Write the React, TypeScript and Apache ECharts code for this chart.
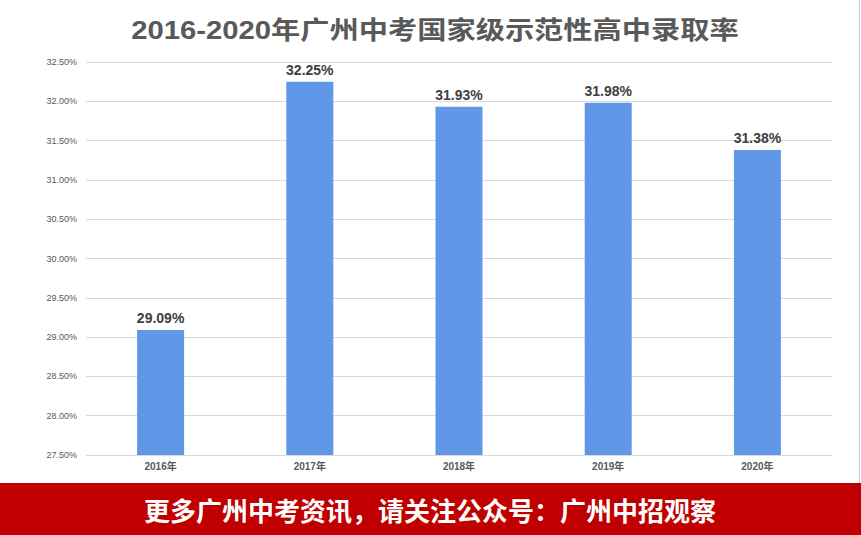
import React, { useEffect, useRef } from "react";
import * as echarts from "echarts";

const title = "2016-2020年广州中考国家级示范性高中录取率";
const banner = "更多广州中考资讯，请关注公众号：广州中招观察";
const years = ["2016年", "2017年", "2018年", "2019年", "2020年"];
const rates = [29.09, 32.25, 31.93, 31.98, 31.38];

export default function App() {
  const ref = useRef<HTMLDivElement>(null);
  useEffect(() => {
    document.body.style.margin = "0";
    const chart = echarts.init(ref.current!, null, { renderer: "svg" });
    chart.setOption({
      animation: false,
      backgroundColor: "#ffffff",
      grid: { left: 86, right: 29, top: 62, bottom: 80 },
      xAxis: {
        type: "category",
        data: years,
        axisLine: { lineStyle: { color: "#d9d9d9" } },
        axisTick: { show: false },
        axisLabel: {
          color: "#595959",
          fontSize: 10,
          fontWeight: "bold",
          margin: 6,
          fontFamily: "Liberation Sans, Noto Sans CJK SC",
        },
      },
      yAxis: {
        type: "value",
        min: 27.5,
        max: 32.5,
        interval: 0.5,
        axisLine: { show: false },
        axisTick: { show: false },
        splitLine: { lineStyle: { color: "#d9d9d9" } },
        axisLabel: {
          color: "#595959",
          fontSize: 9,
          margin: 9,
          fontFamily: "Liberation Sans",
          formatter: (v: number) => v.toFixed(2) + "%",
        },
      },
      series: [
        {
          type: "bar",
          data: rates,
          barWidth: "31.5%",
          itemStyle: { color: "#6097E6" },
          label: {
            show: true,
            position: "top",
            distance: 5,
            color: "#404040",
            fontSize: 14,
            fontWeight: "bold",
            fontFamily: "Liberation Sans",
            formatter: (p: any) => p.value.toFixed(2) + "%",
          },
        },
      ],
      graphic: [
        {
          type: "text",
          x: 435,
          y: 30,
          scaleX: 1.17,
          style: {
            text: title,
            fill: "#595959",
            font: "bold 25px 'Liberation Sans', 'Noto Sans CJK SC'",
            textAlign: "center",
            textVerticalAlign: "middle",
          },
        },
        {
          type: "line",
          shape: { x1: 859.5, y1: 0, x2: 859.5, y2: 483 },
          style: { stroke: "#c8c8c8", lineWidth: 1 },
        },
        {
          type: "rect",
          shape: { x: 0, y: 483, width: 861, height: 52 },
          style: { fill: "#C00000" },
        },
        {
          type: "text",
          x: 430,
          y: 509,
          style: {
            text: banner,
            fill: "#ffffff",
            font: "bold 26px 'Noto Sans CJK SC'",
            textAlign: "center",
            textVerticalAlign: "middle",
          },
        },
      ],
    });
    return () => chart.dispose();
  }, []);
  return (
    <div
      ref={ref}
      style={{ position: "absolute", left: 0, top: 0, width: 861, height: 535 }}
    />
  );
}
